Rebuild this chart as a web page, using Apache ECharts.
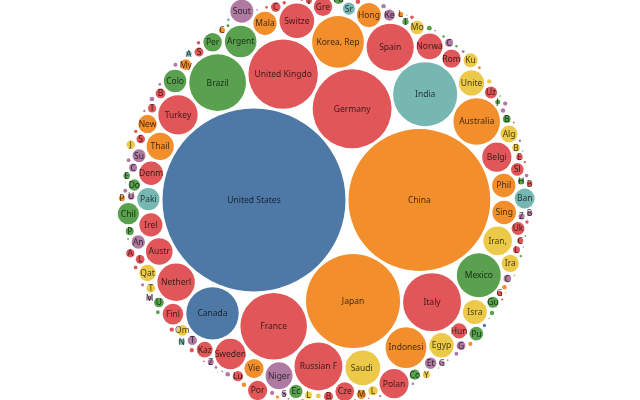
<!DOCTYPE html>
<html><head><meta charset="utf-8">
<script src="https://cdn.jsdelivr.net/npm/echarts@6/dist/echarts.min.js"></script>
<style>html,body{margin:0;padding:0;background:#fff}#main{width:640px;height:400px}</style>
</head><body><div id="main"></div>
<script>
// Values (billions); listed in packing order
const countries = ["United States","China","Japan","Germany","United Kingdom","France","India","Italy","Brazil","Canada",
"Korea, Rep.","Russian Federation","Spain","Australia","Mexico","Indonesia","Turkey","Netherlands","Saudi Arabia","Switzerland",
"Argentina","Poland","Sweden","Belgium","Iran, Islamic Rep.","Thailand","Nigeria","Austria","Norway","United Arab Emirates",
"Egypt, Arab Rep.","Israel","Denmark","Hong Kong SAR, China","Philippines","Ireland","Singapore","Pakistan","Chile","Malaysia",
"Colombia","Bangladesh","Finland","Vietnam","Czech Republic","Greece","Peru","Algeria","New Zealand","Romania",
"Qatar","Iraq","Kazakhstan","Hungary","Puerto Rico","Kuwait","Ecuador","Sudan","Angola","Slovak Republic",
"Ukraine","Morocco","Dominican Republic","Ethiopia","Sri Lanka","Guatemala","Uzbekistan","Kenya","Oman","Luxembourg",
"Portugal","Myanmar","Panama","Costa Rica","Uruguay","South Africa","Bulgaria","Croatia","Lebanon","Belarus",
"Tanzania","Macao SAR, China","Slovenia","Ghana","Lithuania","Tunisia","Serbia","Jordan","Azerbaijan","Turkmenistan",
"Paraguay","Congo, Dem. Rep.","Cote d'Ivoire","Bolivia","Cameroon","Bahrain","Latvia","Yemen, Rep.","Libya","El Salvador",
"Uganda","Estonia","Trinidad and Tobago","Honduras","Nepal","Cyprus","Zambia","Papua New Guinea","Zimbabwe","Iceland",
"Cambodia","Afghanistan","Bosnia and Herzegovina","Lao PDR","Botswana","Georgia","Senegal","Jamaica","Mali","Gabon",
"West Bank and Gaza","Nicaragua","Mauritius","Burkina Faso","Albania","Brunei Darussalam","Bahamas, The","Mongolia","Equatorial Guinea","Mozambique",
"Malta","North Macedonia","Namibia","Armenia","Chad","Madagascar","New Caledonia","Benin","Guinea","Rwanda",
"Haiti","Congo, Rep.","Moldova","Niger","Tajikistan","Kyrgyz Republic","Isle of Man","Kosovo","Monaco","Liechtenstein",
"Bermuda","Guam","French Polynesia","Malawi","Fiji","Barbados","Togo","Maldives","Mauritania","Montenegro",
"Eswatini","Virgin Islands (U.S.)","Sierra Leone","Guyana","Suriname","Liberia","Curacao","Burundi","South Sudan","Andorra",
"Aruba","Faroe Islands","Djibouti","Lesotho","Greenland","Bhutan","Timor-Leste","Belize","Central African Republic","Cabo Verde",
"St. Lucia","San Marino","Gambia, The","Seychelles","Antigua and Barbuda","Guinea-Bissau","Solomon Islands","Grenada","St. Kitts and Nevis","Vanuatu",
"Samoa","St. Vincent and the Grenadines","Comoros","Dominica","Tonga","Sao Tome and Principe","Micronesia","Palau","Marshall Islands","Kiribati",
"Nauru","Tuvalu"];
const values = [18707,11233,4940,3479,2694,2471,2295,1877,1796,1536,
1500,1283,1238,1209,1077,932,864,784,680,672,
558,472,515,476,458,412,405,396,371,357,
332,319,312,321,305,299,310,278,250,301,
283,221,239,205,196,193,192,160,188,188,
152,166,137,128,104,109,99,95,101,89.5,
93,103,72,74,82,69,81.8,69,65,60,
206,63,58,57,53,296,53.2,51.6,49.9,47.7,
47.4,45.4,44.7,42.7,42.7,41.8,40.7,39.9,37.9,36.2,
36.1,35.5,35.4,34.2,32.2,32.2,27.6,27.3,26,24.2,
24,23.3,22.2,21.5,21.2,20.9,20.9,20.8,20.5,20.3,
20,19.4,16.9,15.8,15.6,15.1,14.8,14.1,14,14,
13.4,13.3,12.2,11.9,11.9,11.4,11.3,11.2,11.2,11,
11,10.9,10.7,10.5,10.1,10,9.8,8.6,8.6,8.5,
8,8,8,7.5,7,6.8,6.8,6.7,6.5,6.2,
6,5.8,5.7,5.4,4.9,4.9,4.8,4.7,4.7,4.4,
3.9,3.8,3.7,3.4,3.3,3.3,3.1,3,2.9,2.9,
2.6,2.6,2.5,2.3,2.2,2.2,1.8,1.8,1.8,1.6,
1.6,1.6,1.5,1.4,1.4,1.2,1.2,1,0.9,0.8,
0.8,0.8,0.6,0.5,0.4,0.35,0.3,0.3,0.2,0.19,
0.1,0.04];
const regions = ["NA","EAP","EAP","ECA","ECA","ECA","SAS","ECA","LAC","NA",
"EAP","ECA","ECA","EAP","LAC","EAP","ECA","ECA","MNA","ECA",
"LAC","ECA","ECA","ECA","MNA","EAP","SSA","ECA","ECA","MNA",
"MNA","MNA","ECA","EAP","EAP","ECA","EAP","SAS","LAC","EAP",
"LAC","SAS","ECA","EAP","ECA","ECA","LAC","MNA","EAP","ECA",
"MNA","MNA","ECA","ECA","LAC","MNA","LAC","SSA","SSA","ECA",
"ECA","MNA","LAC","SSA","SAS","LAC","ECA","SSA","MNA","ECA",
"ECA","EAP","LAC","LAC","LAC","SSA","ECA","ECA","MNA","ECA",
"SSA","EAP","ECA","SSA","ECA","MNA","ECA","MNA","ECA","ECA",
"LAC","SSA","SSA","LAC","SSA","MNA","ECA","MNA","MNA","LAC",
"SSA","ECA","LAC","LAC","SAS","ECA","SSA","EAP","SSA","ECA",
"EAP","SAS","ECA","EAP","SSA","ECA","SSA","LAC","SSA","SSA",
"MNA","LAC","SSA","SSA","ECA","EAP","LAC","EAP","SSA","SSA",
"MNA","ECA","SSA","ECA","SSA","SSA","EAP","SSA","SSA","SSA",
"LAC","SSA","ECA","SSA","ECA","ECA","ECA","ECA","ECA","ECA",
"NA","EAP","EAP","SSA","EAP","LAC","SSA","SAS","SSA","ECA",
"SSA","LAC","SSA","LAC","LAC","SSA","LAC","SSA","SSA","ECA",
"LAC","ECA","MNA","SSA","ECA","SAS","EAP","LAC","SSA","SSA",
"LAC","ECA","SSA","SSA","LAC","SSA","EAP","LAC","LAC","EAP",
"EAP","LAC","SSA","LAC","EAP","SSA","EAP","EAP","EAP","EAP",
"EAP","EAP"];
const palette = ["#4e79a7","#f28e2c","#e15759","#76b7b2","#59a14f","#edc949","#af7aa1","#ff9da7","#9c755f","#bab0ab"];

// layout parameters
const scaleK = 0.669;      // px per sqrt(value)
const padding = 3;
const anchor = [254, 200]; // where the largest bubble sits

// ---- circle packing (front-chain algorithm) ----
function place(b, a, c) {
  var dx = b.x - a.x, x, a2, dy = b.y - a.y, y, b2, d2 = dx * dx + dy * dy;
  if (d2) {
    a2 = a.r + c.r; a2 *= a2; b2 = b.r + c.r; b2 *= b2;
    if (a2 > b2) {
      x = (d2 + b2 - a2) / (2 * d2); y = Math.sqrt(Math.max(0, b2 / d2 - x * x));
      c.x = b.x - x * dx - y * dy; c.y = b.y - x * dy + y * dx;
    } else {
      x = (d2 + a2 - b2) / (2 * d2); y = Math.sqrt(Math.max(0, a2 / d2 - x * x));
      c.x = a.x + x * dx - y * dy; c.y = a.y + x * dy + y * dx;
    }
  } else { c.x = a.x + c.r; c.y = a.y; }
}
function intersects(a, b) {
  var dr = a.r + b.r - 1e-6, dx = b.x - a.x, dy = b.y - a.y;
  return dr > 0 && dr * dr > dx * dx + dy * dy;
}
function score(node) {
  var a = node._, b = node.next._, ab = a.r + b.r,
    dx = (a.x * b.r + b.x * a.r) / ab, dy = (a.y * b.r + b.y * a.r) / ab;
  return dx * dx + dy * dy;
}
function Node(c) { this._ = c; this.next = null; this.previous = null; }
function packSiblings(circles) {
  var n = circles.length, a, b, c, aa, ca, i, j, k, sj, sk;
  a = circles[0]; a.x = 0; a.y = 0;
  b = circles[1]; a.x = -b.r; b.x = a.r; b.y = 0;
  place(b, a, c = circles[2]);
  a = new Node(a); b = new Node(b); c = new Node(c);
  a.next = c.previous = b; b.next = a.previous = c; c.next = b.previous = a;
  pack: for (i = 3; i < n; ++i) {
    place(a._, b._, c = circles[i]); c = new Node(c);
    j = b.next; k = a.previous; sj = b._.r; sk = a._.r;
    do {
      if (sj <= sk) {
        if (intersects(j._, c._)) { b = j; a.next = b; b.previous = a; --i; continue pack; }
        sj += j._.r; j = j.next;
      } else {
        if (intersects(k._, c._)) { a = k; a.next = b; b.previous = a; --i; continue pack; }
        sk += k._.r; k = k.previous;
      }
    } while (j !== k.next);
    c.previous = a; c.next = b; a.next = b.previous = b = c;
    aa = score(a);
    while ((c = c.next) !== b) { if ((ca = score(c)) < aa) { a = c; aa = ca; } }
    b = a.next;
  }
}

const circles = values.map((v, i) => ({ i: i, r: scaleK * Math.sqrt(v) + padding / 2 }));
packSiblings(circles);
const ox = anchor[0] - circles[0].x, oy = anchor[1] - circles[0].y;
const seriesData = circles.map(c => [ox + c.x, oy + c.y, c.r - padding / 2]);

const regionOrder = [];
regions.forEach(r => { if (regionOrder.indexOf(r) < 0) regionOrder.push(r); });

function labelOf(i, r) {
  return countries[i].slice(0, Math.floor(r / 2.5));
}

const chart = echarts.init(document.getElementById('main'), null, { renderer: 'canvas' });
chart.setOption({
  animation: false,
  grid: { left: 0, right: 0, top: 0, bottom: 0 },
  xAxis: { type: 'value', min: 0, max: 640, show: false },
  yAxis: { type: 'value', min: 0, max: 400, inverse: true, show: false },
  series: [{
    type: 'custom',
    coordinateSystem: 'cartesian2d',
    clip: false,
    data: seriesData,
    encode: { x: 0, y: 1 },
    renderItem: function (params, api) {
      const i = params.dataIndex;
      const p = api.coord([api.value(0), api.value(1)]);
      const rr = api.size([api.value(2), 0])[0];
      const col = palette[regionOrder.indexOf(regions[i]) % palette.length];
      const children = [{
        type: 'circle', shape: { cx: p[0], cy: p[1], r: rr }, style: { fill: col }
      }];
      const txt = labelOf(i, rr);
      if (txt) children.push({
        type: 'text', z2: 10,
        style: { text: txt, x: p[0], y: p[1] + 0.5, align: 'center', verticalAlign: 'middle',
                 font: '8.5px "Noto Sans", "Open Sans", sans-serif', fill: 'rgba(0,0,0,0.72)' }
      });
      return { type: 'group', children: children };
    }
  }]
});
</script></body></html>
